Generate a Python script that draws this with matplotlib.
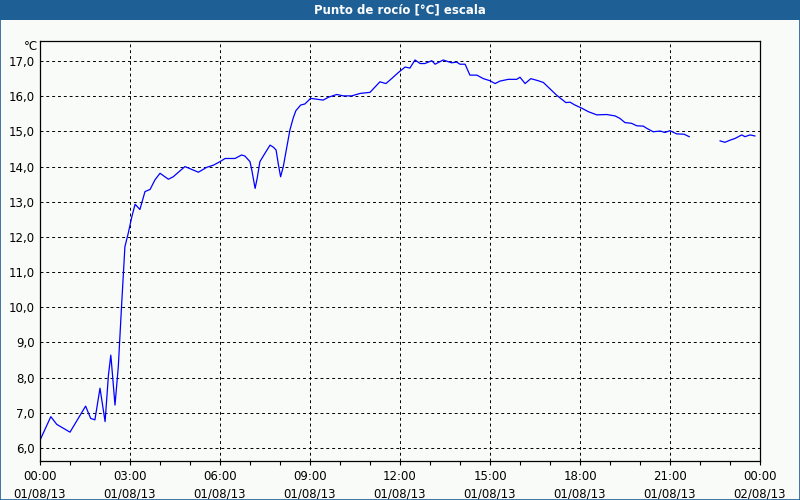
#!/usr/bin/env python3
# dew point chart, one day of readings

import datetime as dt

import numpy as np
import matplotlib.pyplot as plt
from matplotlib.patches import Rectangle
from matplotlib.ticker import FuncFormatter, MultipleLocator

title = "Punto de rocío [°C] escala"
unit = "°C"
start = dt.datetime(2013, 8, 1)

# hours after 00:00 01/08/13 and dew point in °C (nan = no data)
hours = [
    0.0, 0.36, 0.56, 0.72, 1.0, 1.52, 1.69, 1.83, 2.0, 2.17,
    2.28, 2.36, 2.38, 2.5, 2.61, 2.64, 2.72, 2.78, 2.83, 2.94,
    3.06, 3.17, 3.33, 3.5, 3.67, 3.83, 4.0, 4.28, 4.44, 4.83,
    5.28, 5.56, 5.78, 6.0, 6.17, 6.5, 6.72, 6.83, 7.0, 7.06,
    7.17, 7.24, 7.33, 7.5, 7.67, 7.78, 7.87, 7.94, 8.02, 8.11,
    8.22, 8.33, 8.44, 8.53, 8.69, 8.83, 9.02, 9.44, 9.61, 9.89,
    10.11, 10.39, 10.67, 11.0, 11.33, 11.53, 11.72, 11.94, 12.17, 12.33,
    12.5, 12.67, 12.83, 13.06, 13.17, 13.44, 13.72, 13.89, 14.0, 14.17,
    14.33, 14.56, 14.78, 15.0, 15.17, 15.33, 15.61, 15.89, 16.0, 16.17,
    16.36, 16.61, 16.78, 17.22, 17.53, 17.67, 17.83, 18.06, 18.28, 18.56,
    18.89, 19.17, 19.33, 19.5, 19.72, 19.89, 20.11, 20.22, 20.44, 20.67,
    20.83, 21.0, 21.22, 21.47, 21.64, 22.2, 22.67, 22.83, 23.0, 23.17,
    23.39, 23.5, 23.67, 23.83,
]
dew_point = [
    6.22, 6.89, 6.67, 6.59, 6.45, 7.19, 6.84, 6.80, 7.70, 6.75,
    8.06, 8.64, 8.45, 7.22, 8.31, 8.79, 10.06, 10.96, 11.72, 12.10,
    12.57, 12.93, 12.78, 13.29, 13.35, 13.62, 13.81, 13.64, 13.71, 14.0,
    13.84, 13.98, 14.04, 14.14, 14.23, 14.23, 14.33, 14.30, 14.14, 13.90,
    13.38, 13.67, 14.14, 14.38, 14.61, 14.55, 14.47, 14.09, 13.71, 14.0,
    14.52, 15.04, 15.38, 15.59, 15.75, 15.78, 15.94, 15.89, 15.97, 16.05,
    16.01, 16.01, 16.08, 16.11, 16.41, 16.36, 16.50, 16.67, 16.83, 16.80,
    17.03, 16.93, 16.93, 17.01, 16.91, 17.03, 16.95, 16.97, 16.91, 16.91,
    16.60, 16.60, 16.50, 16.44, 16.36, 16.43, 16.48, 16.48, 16.54, 16.36,
    16.50, 16.44, 16.39, 16.03, 15.82, 15.83, 15.75, 15.66, 15.56, 15.47,
    15.48, 15.44, 15.37, 15.25, 15.23, 15.16, 15.15, 15.09, 14.99, 15.01,
    14.97, 15.02, 14.93, 14.92, 14.85, np.nan, 14.73, 14.69, 14.75, 14.80,
    14.90, 14.85, 14.90, 14.87,
]

bg = "#f9fbf9"
bar = "#1e6096"


def time_label(h, pos):
    t = start + dt.timedelta(hours=h)
    return t.strftime("%H:%M\n%d/%m/%y")


def main():
    fig = plt.figure(figsize=(8, 5), dpi=100, facecolor=bg)

    # title bar and frame
    fig.patches.append(Rectangle((0, 0.96), 1, 0.04, transform=fig.transFigure,
                                 facecolor=bar, edgecolor="none", zorder=0))
    fig.patches.append(Rectangle((0.0006, 0.001), 0.9988, 0.998, transform=fig.transFigure,
                                 facecolor="none", edgecolor=bar, lw=1.2, zorder=1))
    fig.text(0.5, 0.98, title, color="white", fontsize=8.5, fontweight="bold",
             ha="center", va="center")

    ax = fig.add_axes([0.05, 0.078, 0.9, 0.84], facecolor=bg)
    ax.plot(hours, dew_point, color="#0000ff", lw=0.9)

    ax.set_xlim(0, 24)
    ax.set_ylim(5.63, 17.57)
    ax.xaxis.set_major_locator(MultipleLocator(3))
    ax.xaxis.set_minor_locator(MultipleLocator(1))
    ax.xaxis.set_major_formatter(FuncFormatter(time_label))
    ax.yaxis.set_major_locator(MultipleLocator(1))
    ax.yaxis.set_major_formatter(FuncFormatter(lambda v, p: f"{v:.1f}".replace(".", ",")))

    ax.grid(True, which="major", color="black", ls=(0, (3, 3)), lw=0.7)
    ax.tick_params(axis="x", which="both", direction="out", length=3, width=0.8,
                   labelsize=8.5, pad=3.5)
    ax.tick_params(axis="y", length=0, labelsize=8.5, pad=4)
    for lbl in ax.get_xticklabels():
        lbl.set_linespacing(1.4)
    for s in ax.spines.values():
        s.set_color("black")
        s.set_linewidth(0.9)

    fig.text(0.047, 0.908, unit, fontsize=8.5, ha="right", va="center")

    fig.savefig("out.png", dpi=100, facecolor=bg)


if __name__ == "__main__":
    main()
